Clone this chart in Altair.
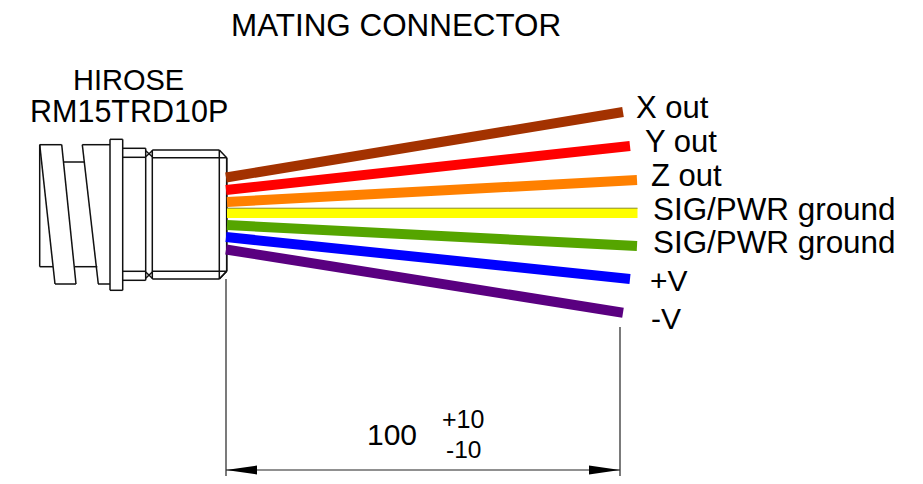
import altair as alt
import pandas as pd

# Drawing sheet coordinates (the axes are hidden; domain equals the sheet area)
X_DOMAIN = [8, 915]
Y_DOMAIN = [476, 8]

wire_names = ["X out", "Y out", "Z out", "SIG/PWR ground 1", "SIG/PWR ground 2", "+V", "-V"]
wire_colors = ["#A33200", "#FF0000", "#FF8000", "#FFFF00", "#55A500", "#0000FF", "#5A0080"]
wire_x0 = [226, 226, 227, 227, 227, 226, 226]
wire_y0 = [177.5, 190, 202, 213, 225, 237, 249.5]
wire_x1 = [623, 630, 637, 637.5, 637, 630, 623]
wire_y1 = [112, 146, 180, 213, 246, 279, 312.7]

seg_x0 = [39.7, 39.7, 39.7, 61.7, 55, 39.7, 63.3, 82.3, 82.3, 98, 75, 110, 110, 122.7, 110,
          122.7, 122.7, 122.7, 122.7, 145.7, 152.3, 145.7, 145.7, 145.7, 145.7,
          152.3, 152.3, 219.3, 226.7, 219.3, 219.3, 226.7, 152.3, 152.3, 219.3]
seg_y0 = [144.7, 144.7, 144.7, 144.7, 284, 266.7, 162, 144.7, 144.7, 284, 266.7, 139.3, 290.3, 139.3, 139.3,
          148.3, 157.3, 271.3, 280.3, 148.3, 150, 150.7, 156.7, 272, 278.3,
          150, 157.7, 150, 157.7, 279, 150, 157.7, 271.3, 279, 279]
seg_x1 = [39.7, 61.7, 55, 76, 76, 53, 84, 110, 98.3, 110, 97.3, 122.7, 122.7, 122.7, 110,
          145.7, 145.7, 145.7, 145.7, 145.7, 152.3, 152.3, 152.3, 152.3, 152.3,
          219.3, 226.7, 226.7, 226.7, 226.7, 219.3, 226.7, 226.7, 219.3, 226.7]
seg_y1 = [266.7, 144.7, 284, 284, 284, 266.7, 162, 144.7, 284, 284, 266.7, 139.3, 290.3, 290.3, 290.3,
          148.3, 157.3, 271.3, 280.3, 280.3, 279, 156.7, 150.7, 278.3, 272,
          150, 157.7, 157.7, 271.3, 271.3, 279, 271.3, 271.3, 279, 271.3]

dim_x0 = [226, 620, 226]
dim_y0 = [279, 327, 470]
dim_x1 = [226, 620, 620]
dim_y1 = [478, 478, 470]

arrow_left_x = [226, 257]
arrow_right_x = [620, 589]
arrow_top = [470, 465.5]
arrow_bottom = [470, 474.5]

edge_x = [227, 637.5]
edge_y = [208.2, 208.2]

label_text = ["MATING CONNECTOR", "HIROSE", "RM15TRD10P", "X out", "Y out", "Z out",
              "SIG/PWR ground", "SIG/PWR ground", "+V", "-V", "100", "+10", "-10"]
label_x = [231, 73, 30, 636, 645, 651, 653, 653, 650, 651, 367, 442, 446]
label_y = [36, 90, 122, 118, 152, 186, 220, 253, 291, 329, 445, 428, 458]
label_size = [31.4, 29, 30.5, 31, 31, 31, 31.4, 31.4, 30, 30, 30, 25, 24.5]

scale_x = alt.Scale(domain=X_DOMAIN, nice=False, zero=False)
scale_y = alt.Scale(domain=Y_DOMAIN, nice=False, zero=False)
X = lambda f: alt.X(f, type="quantitative", scale=scale_x, axis=None)
Y = lambda f: alt.Y(f, type="quantitative", scale=scale_y, axis=None)

wires = pd.DataFrame(dict(name=wire_names, c=wire_colors, x0=wire_x0, y0=wire_y0, x1=wire_x1, y1=wire_y1))
segs = pd.DataFrame(dict(x0=seg_x0, y0=seg_y0, x1=seg_x1, y1=seg_y1))
dims = pd.DataFrame(dict(x0=dim_x0, y0=dim_y0, x1=dim_x1, y1=dim_y1))


def rules(df, **kw):
    return alt.Chart(df).mark_rule(**kw).encode(x=X("x0"), y=Y("y0"), x2="x1", y2="y1")


layers = [
    rules(segs, color="#111111", strokeWidth=1.5),
    rules(dims, color="#222222", strokeWidth=1.2),
    alt.Chart(wires).mark_rule(strokeWidth=10, strokeCap="butt").encode(
        x=X("x0"), y=Y("y0"), x2="x1", y2="y1",
        color=alt.Color("c:N", scale=None, legend=None),
    ),
    alt.Chart(pd.DataFrame(dict(x=edge_x, y=edge_y))).mark_line(color="#8C8C3C", strokeWidth=1).encode(x=X("x"), y=Y("y")),
]
for ax in (arrow_left_x, arrow_right_x):
    d = pd.DataFrame(dict(x=ax, t=arrow_top, b=arrow_bottom))
    layers.append(alt.Chart(d).mark_area(color="#000000", orient="vertical").encode(x=X("x"), y=Y("t"), y2="b"))
for t, x, y, s in zip(label_text, label_x, label_y, label_size):
    d = pd.DataFrame(dict(t=[t], x=[x], y=[y]))
    layers.append(
        alt.Chart(d).mark_text(font="Liberation Sans", fontSize=s, align="left", baseline="alphabetic", color="#000000")
        .encode(x=X("x"), y=Y("y"), text="t:N")
    )

chart = (
    alt.layer(*layers, background="#FFFFFF")
    .properties(width=907, height=468, padding=0, autosize=alt.AutoSizeParams(type="none"))
    .configure_view(stroke=None)
)
chart.save("out.html", embed_options={"renderer": "svg", "actions": False})
